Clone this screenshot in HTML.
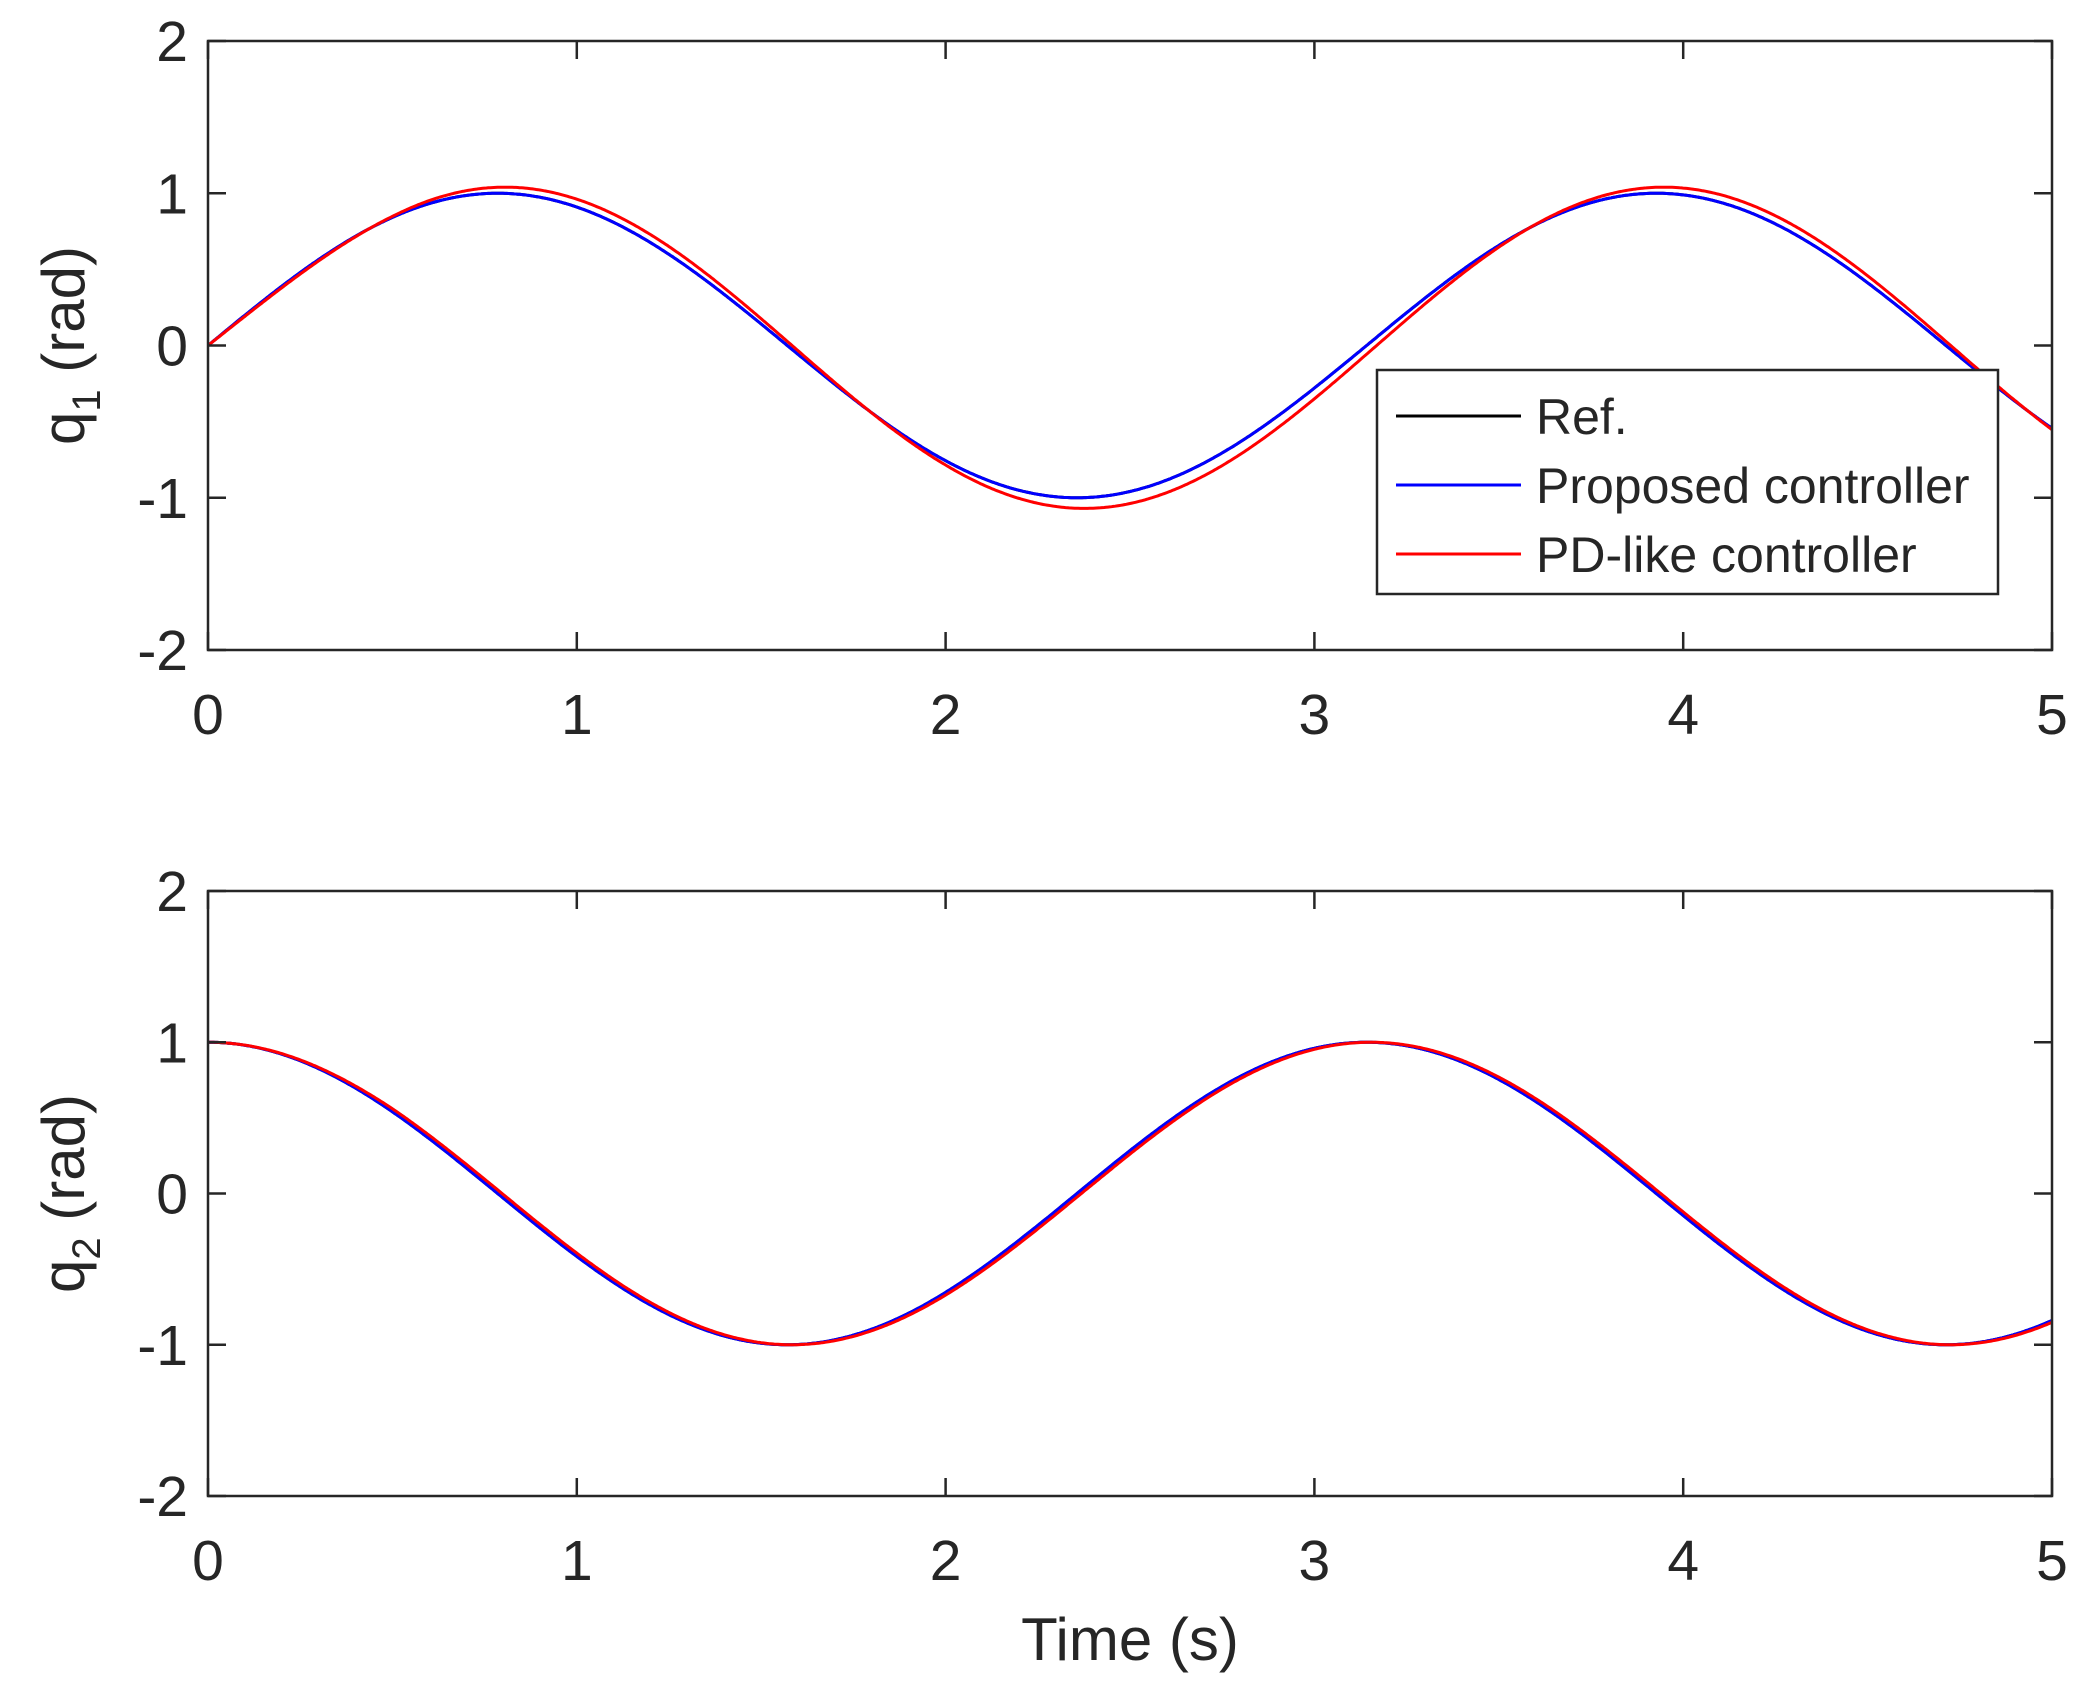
<!DOCTYPE html>
<html><head><meta charset="utf-8"><style>
html,body{margin:0;padding:0;background:#fff;}
svg{display:block;}
text{font-family:"Liberation Sans",Arial,sans-serif;fill:#262626;}
</style></head><body>
<svg id="s" width="2088" height="1683" xmlns="http://www.w3.org/2000/svg">
<rect width="2088" height="1683" fill="#fff"/>
<g id="g"></g>
</svg>
<script>
const g=document.getElementById('g');
let h='';
const L=208,R=2052,W=R-L;
const axes=[{t:41,b:650,f:t=>Math.sin(2*t),p:t=>{const r=Math.min(1,t/0.6);return (1+0.055*r)*Math.sin(2*(t-0.02*r))-0.015*r;},lab:'1'},
            {t:891,b:1496,f:t=>Math.cos(2*t),p:t=>Math.cos(2*(t-0.012*Math.min(1,t/0.5))),lab:'2'}];
axes.forEach((a,i)=>{
  const H=a.b-a.t;
  const X=t=>L+t/5*W, Y=v=>a.t+(2-v)/4*H;
  const path=(fn)=>{let d='';for(let k=0;k<=1000;k++){const t=5*k/1000;d+=(k?'L':'M')+X(t).toFixed(1)+','+Y(fn(t)).toFixed(1);}return d;};
  h+=`<path d="${path(a.f)}" fill="none" stroke="#000" stroke-width="3"/>`;
  h+=`<path d="${path(a.f)}" fill="none" stroke="#0000ff" stroke-width="3"/>`;
  h+=`<path d="${path(a.p)}" fill="none" stroke="#ff0000" stroke-width="3"/>`;
  h+=`<rect x="${L}" y="${a.t}" width="${W}" height="${H}" fill="none" stroke="#262626" stroke-width="2.5"/>`;
  for(let v=-2;v<=2;v++){const y=Y(v);
    h+=`<line x1="${L}" y1="${y}" x2="${L+18}" y2="${y}" stroke="#262626" stroke-width="2.5"/><line x1="${R}" y1="${y}" x2="${R-18}" y2="${y}" stroke="#262626" stroke-width="2.5"/>`;
    h+=`<text x="188" y="${y+20}" font-size="57" text-anchor="end">${v}</text>`;}
  for(let t=0;t<=5;t++){const x=X(t);
    h+=`<line x1="${x}" y1="${a.b}" x2="${x}" y2="${a.b-18}" stroke="#262626" stroke-width="2.5"/><line x1="${x}" y1="${a.t}" x2="${x}" y2="${a.t+18}" stroke="#262626" stroke-width="2.5"/>`;
    h+=`<text x="${x}" y="${a.b+84}" font-size="57" text-anchor="middle">${t}</text>`;}
  const cy=(a.t+a.b)/2;
  h+=`<text transform="translate(84,${cy}) rotate(-90)" font-size="60" text-anchor="middle">q<tspan font-size="40" dy="16">${a.lab}</tspan><tspan dy="-16"> (rad)</tspan></text>`;
});
h+=`<text x="1130" y="1660" font-size="60" text-anchor="middle">Time (s)</text>`;
h+=`<rect x="1377" y="370" width="621" height="224" fill="#fff" stroke="#262626" stroke-width="2.5"/>`;
[['Ref.','#000',416],['Proposed controller','#0000ff',485],['PD-like controller','#ff0000',554]].forEach(e=>{
  h+=`<line x1="1396" y1="${e[2]}" x2="1521" y2="${e[2]}" stroke="${e[1]}" stroke-width="3"/>`;
  h+=`<text x="1536" y="${e[2]+18}" font-size="50">${e[0]}</text>`;});
g.innerHTML=h;
</script>
</body></html>
